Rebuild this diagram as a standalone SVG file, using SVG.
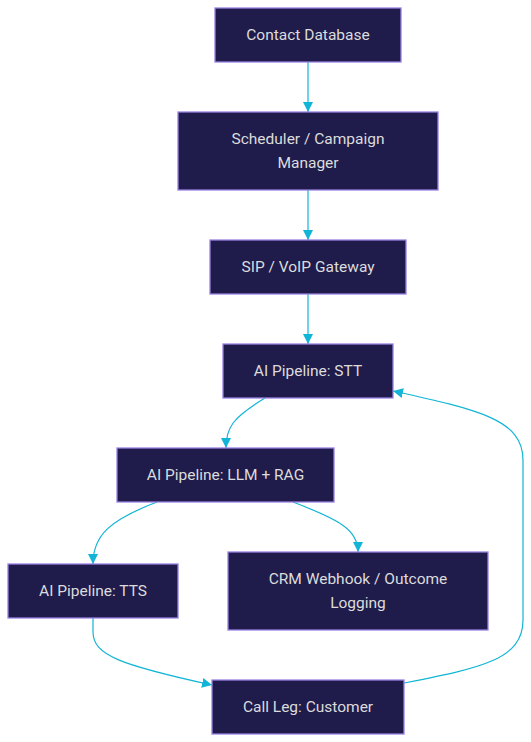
<svg xmlns="http://www.w3.org/2000/svg" width="531" height="742" viewBox="0 0 531 742">
<style>
.node rect{fill:#1f1b4b;stroke:#9a80e0;stroke-width:1.3}
.node text{fill:#dcdcdc;font-family:Roboto,"Noto Sans",sans-serif;font-size:15.5px;text-anchor:middle;dominant-baseline:central}
.edge{fill:none;stroke:#12b5d6;stroke-width:1.2;marker-end:url(#arr)}
</style>
<defs>
<marker id="arr" viewBox="0 0 10 10" refX="10" refY="5" markerWidth="10" markerHeight="10" markerUnits="userSpaceOnUse" orient="auto">
<path d="M0,0 L10,5 L0,10 z" fill="#12b5d6"/>
</marker>
</defs>
<rect width="531" height="742" fill="#ffffff"/>
<g id="connectors">
<path class="edge" d="M308,62 L308,112"/>
<path class="edge" d="M308,190 L308,240"/>
<path class="edge" d="M308,294 L308,344"/>
<path class="edge" d="M265,398 C232,418 226,428 226,448"/>
<path class="edge" d="M157,502 C110,520 93,535 93,564"/>
<path class="edge" d="M293,502 C340,520 358,530 358,552"/>
<path class="edge" d="M93,618 L93,632 C93,655 120,665 212,685"/>
<path class="edge" d="M404,683 C480,668 523,660 523,620 L523,460 C523,420 480,410 393,391"/>
</g>
<g id="contact-db" class="node"><rect x="215" y="8" width="186" height="54"/><text x="308" y="35">Contact Database</text></g>
<g id="scheduler" class="node"><rect x="178" y="112" width="260" height="78"/><text x="308" y="139">Scheduler / Campaign</text><text x="308" y="163">Manager</text></g>
<g id="sip-gateway" class="node"><rect x="210" y="240" width="196" height="54"/><text x="308" y="267">SIP / VoIP Gateway</text></g>
<g id="stt" class="node"><rect x="223" y="344" width="170" height="54"/><text x="308" y="371">AI Pipeline: STT</text></g>
<g id="llm-rag" class="node"><rect x="117" y="448" width="217" height="54"/><text x="225.5" y="475">AI Pipeline: LLM + RAG</text></g>
<g id="tts" class="node"><rect x="8" y="564" width="170" height="54"/><text x="93" y="591">AI Pipeline: TTS</text></g>
<g id="crm" class="node"><rect x="228" y="552" width="260" height="78"/><text x="358" y="579">CRM Webhook / Outcome</text><text x="358" y="603">Logging</text></g>
<g id="call-leg" class="node"><rect x="212" y="680" width="192" height="54"/><text x="308" y="707">Call Leg: Customer</text></g>
</svg>
